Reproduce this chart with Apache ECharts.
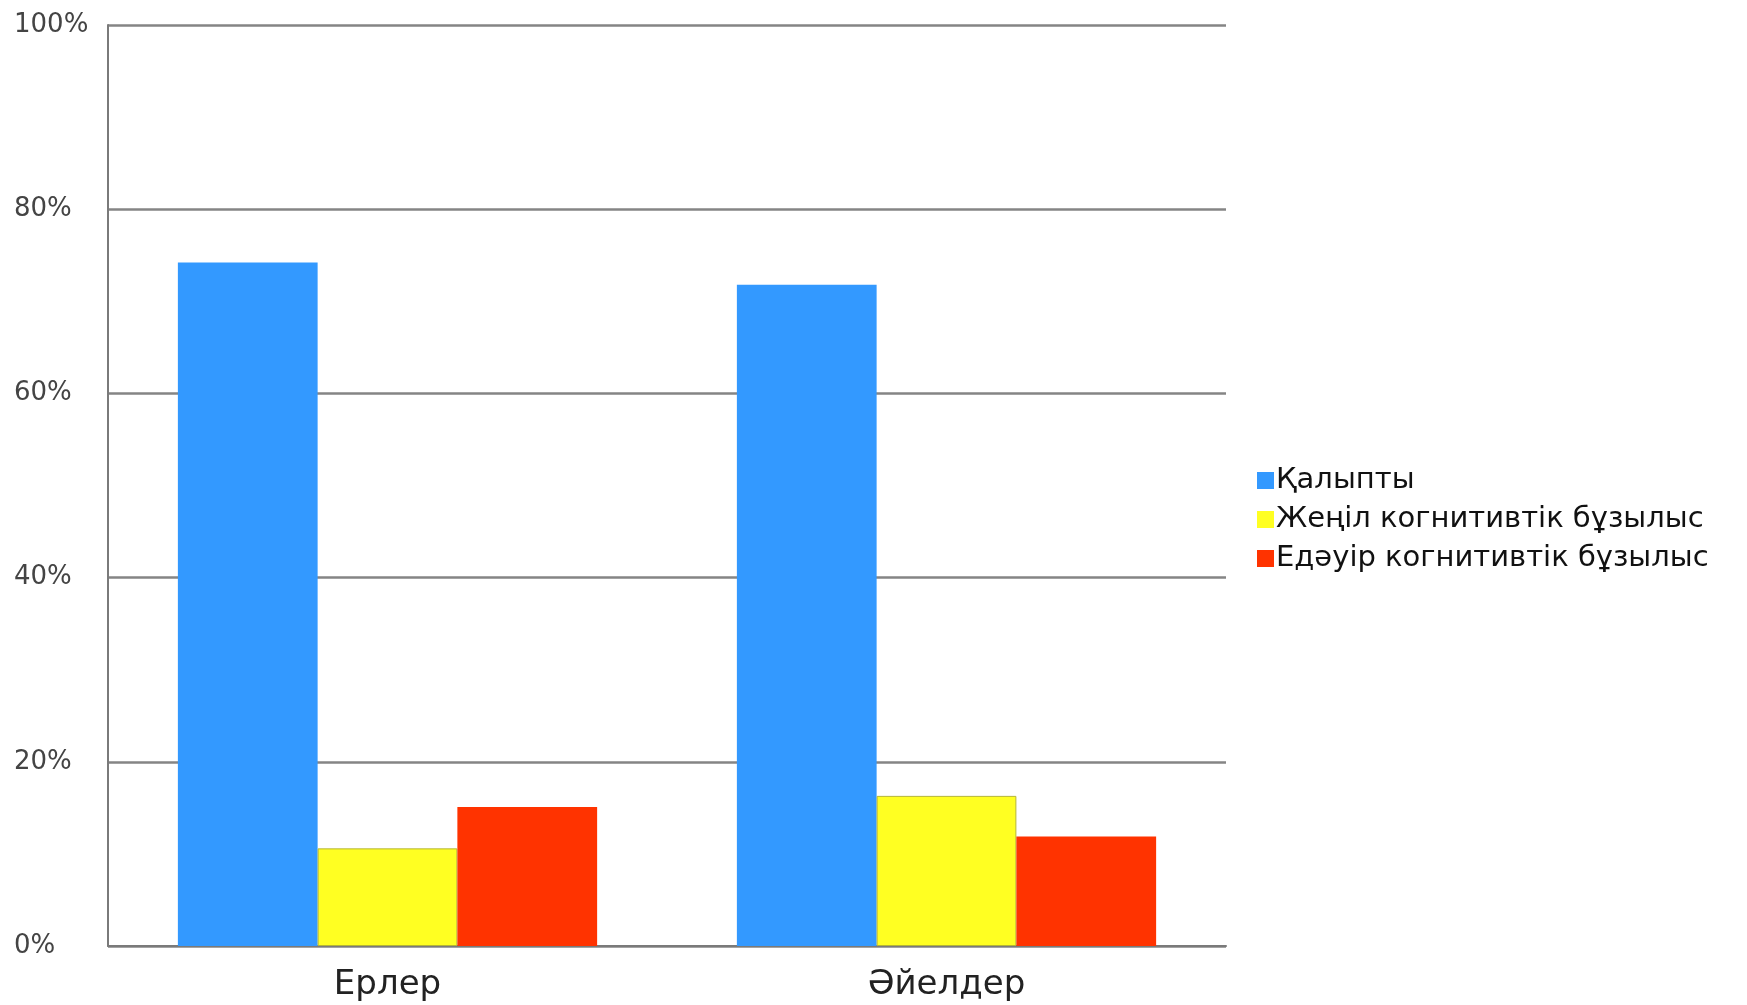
<!DOCTYPE html>
<html>
<head>
<meta charset="utf-8">
<script src="https://cdn.jsdelivr.net/npm/echarts@6/dist/echarts.min.js"></script>
<style>
  html, body { margin: 0; padding: 0; background: #ffffff; }
  #chart { width: 1747px; height: 1005px; }
</style>
</head>
<body>
<div id="chart"></div>
<script>
// Groups on the x axis
const categories = ['Ерлер', 'Әйелдер'];

// Share of each cognitive status, percent
const normal = [74.2, 71.8];           // Қалыпты
const mildImpairment = [10.6, 16.3];   // Жеңіл когнитивтік бұзылыс
const severeImpairment = [15.1, 11.9]; // Едәуір когнитивтік бұзылыс

const seriesNames = ['Қалыпты', 'Жеңіл когнитивтік бұзылыс', 'Едәуір когнитивтік бұзылыс'];
const yTicks = [0, 20, 40, 60, 80, 100];

const font = 'DejaVu Sans, Verdana, sans-serif';
const chart = echarts.init(document.getElementById('chart'));

chart.setOption({
  animation: false,
  backgroundColor: '#ffffff',
  grid: { left: 108, right: 521, top: 25, bottom: 59 },
  legend: {
    orient: 'vertical',
    left: 1252,
    top: 461,
    itemWidth: 17,
    itemHeight: 17,
    itemGap: 10,
    icon: 'rect',
    itemStyle: { borderWidth: 0 },
    textStyle: { fontFamily: font, fontSize: 29, color: '#111', padding: [0, 0, 0, -3] },
    data: seriesNames
  },
  xAxis: {
    type: 'category',
    data: categories,
    axisLine: { lineStyle: { color: '#7a7a7a', width: 2 } },
    axisTick: { show: false },
    axisLabel: { fontFamily: font, fontSize: 34, color: '#222', margin: 22 }
  },
  yAxis: {
    type: 'value',
    min: yTicks[0],
    max: yTicks[yTicks.length - 1],
    interval: 20,
    axisLine: { show: true, lineStyle: { color: '#7a7a7a', width: 2 } },
    axisTick: { show: false },
    splitLine: { lineStyle: { color: '#858585', width: 2.5 } },
    axisLabel: {
      fontFamily: font, fontSize: 26, color: '#444',
      align: 'left', margin: 94,
      formatter: v => v + '%'
    }
  },
  series: [
    {
      name: seriesNames[0], type: 'bar', data: normal,
      barGap: '0%', barCategoryGap: '25%',
      itemStyle: { color: '#3399ff' }
    },
    {
      name: seriesNames[1], type: 'bar', data: mildImpairment,
      barGap: '0%', barCategoryGap: '25%',
      itemStyle: { color: '#ffff22', borderColor: '#b5b535', borderWidth: 1 }
    },
    {
      name: seriesNames[2], type: 'bar', data: severeImpairment,
      barGap: '0%', barCategoryGap: '25%',
      itemStyle: { color: '#ff3300' }
    }
  ]
});
</script>
</body>
</html>
